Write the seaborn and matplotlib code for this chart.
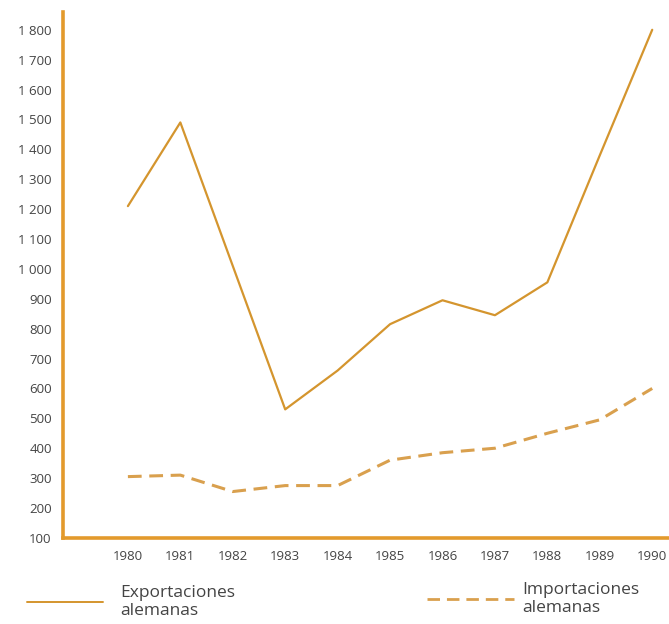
import matplotlib
matplotlib.use("Agg")
import matplotlib.pyplot as plt
import seaborn as sns
import pandas as pd
from matplotlib.lines import Line2D

years = [1980, 1981, 1982, 1983, 1984, 1985, 1986, 1987, 1988, 1989, 1990]
exportaciones = [1210, 1490, 1010, 530, 660, 815, 895, 845, 955, 1380, 1800]
importaciones = [305, 310, 255, 275, 275, 360, 385, 400, 450, 495, 600]
y_ticks = [100, 200, 300, 400, 500, 600, 700, 800, 900, 1000, 1100, 1200,
           1300, 1400, 1500, 1600, 1700, 1800]
legend_labels = ["Exportaciones\nalemanas", "Importaciones\nalemanas"]

df = pd.DataFrame({"year": years, "exp": exportaciones, "imp": importaciones})

sns.set_style("white")
plt.rcParams['font.family'] = ['Open Sans', 'DejaVu Sans']

axis_color = "#E39A2C"
exp_color = "#D4952E"
imp_color = "#D9A04E"
text_color = "#444444"

fig = plt.figure(figsize=(6.69, 6.24), dpi=100)
ax = fig.add_axes([0.094, 0.138, 0.906, 0.843])

sns.lineplot(data=df, x="year", y="exp", ax=ax, color=exp_color, linewidth=1.6)
sns.lineplot(data=df, x="year", y="imp", ax=ax, color=imp_color, linewidth=2.2,
             linestyle=(0, (4.5, 2.5)))

ax.set_xlim(1978.76, 1990.32)
ax.set_ylim(100, 1860)
ax.set_xlabel("")
ax.set_ylabel("")

ax.set_xticks(years)
ax.set_xticklabels([str(y) for y in years], fontsize=9.5, color=text_color)
ax.set_yticks(y_ticks)
ax.set_yticklabels([f"{v:,}".replace(",", " ") for v in y_ticks], fontsize=9.5,
                   color=text_color)
ax.tick_params(axis="y", direction="out", length=6, width=1.3, color=axis_color, pad=2)
ax.tick_params(axis="x", direction="out", length=5, width=1.0, color=axis_color, pad=4)

for side in ["top", "right"]:
    ax.spines[side].set_visible(False)
for side in ["left", "bottom"]:
    ax.spines[side].set_color(axis_color)
    ax.spines[side].set_linewidth(2.6)

h1 = Line2D([], [], color=exp_color, linewidth=1.4)
h2 = Line2D([], [], color=imp_color, linewidth=2.0, linestyle=(0, (4.5, 2.5)))
fig.legend([h1], [legend_labels[0]], loc="center left", bbox_to_anchor=(0.04, 0.035),
           frameon=False, fontsize=12.5, handlelength=4.4, handletextpad=1.0,
           labelcolor=text_color, borderpad=0, borderaxespad=0, labelspacing=0)
fig.legend([h2], [legend_labels[1]], loc="center left", bbox_to_anchor=(0.638, 0.04),
           frameon=False, fontsize=12.5, handlelength=5.0, handletextpad=0.5,
           labelcolor=text_color, borderpad=0, borderaxespad=0, labelspacing=0)
for leg in fig.legends:
    for t in leg.get_texts():
        t.set_linespacing(1.15)

fig.savefig("out.png", dpi=100, facecolor="white")
